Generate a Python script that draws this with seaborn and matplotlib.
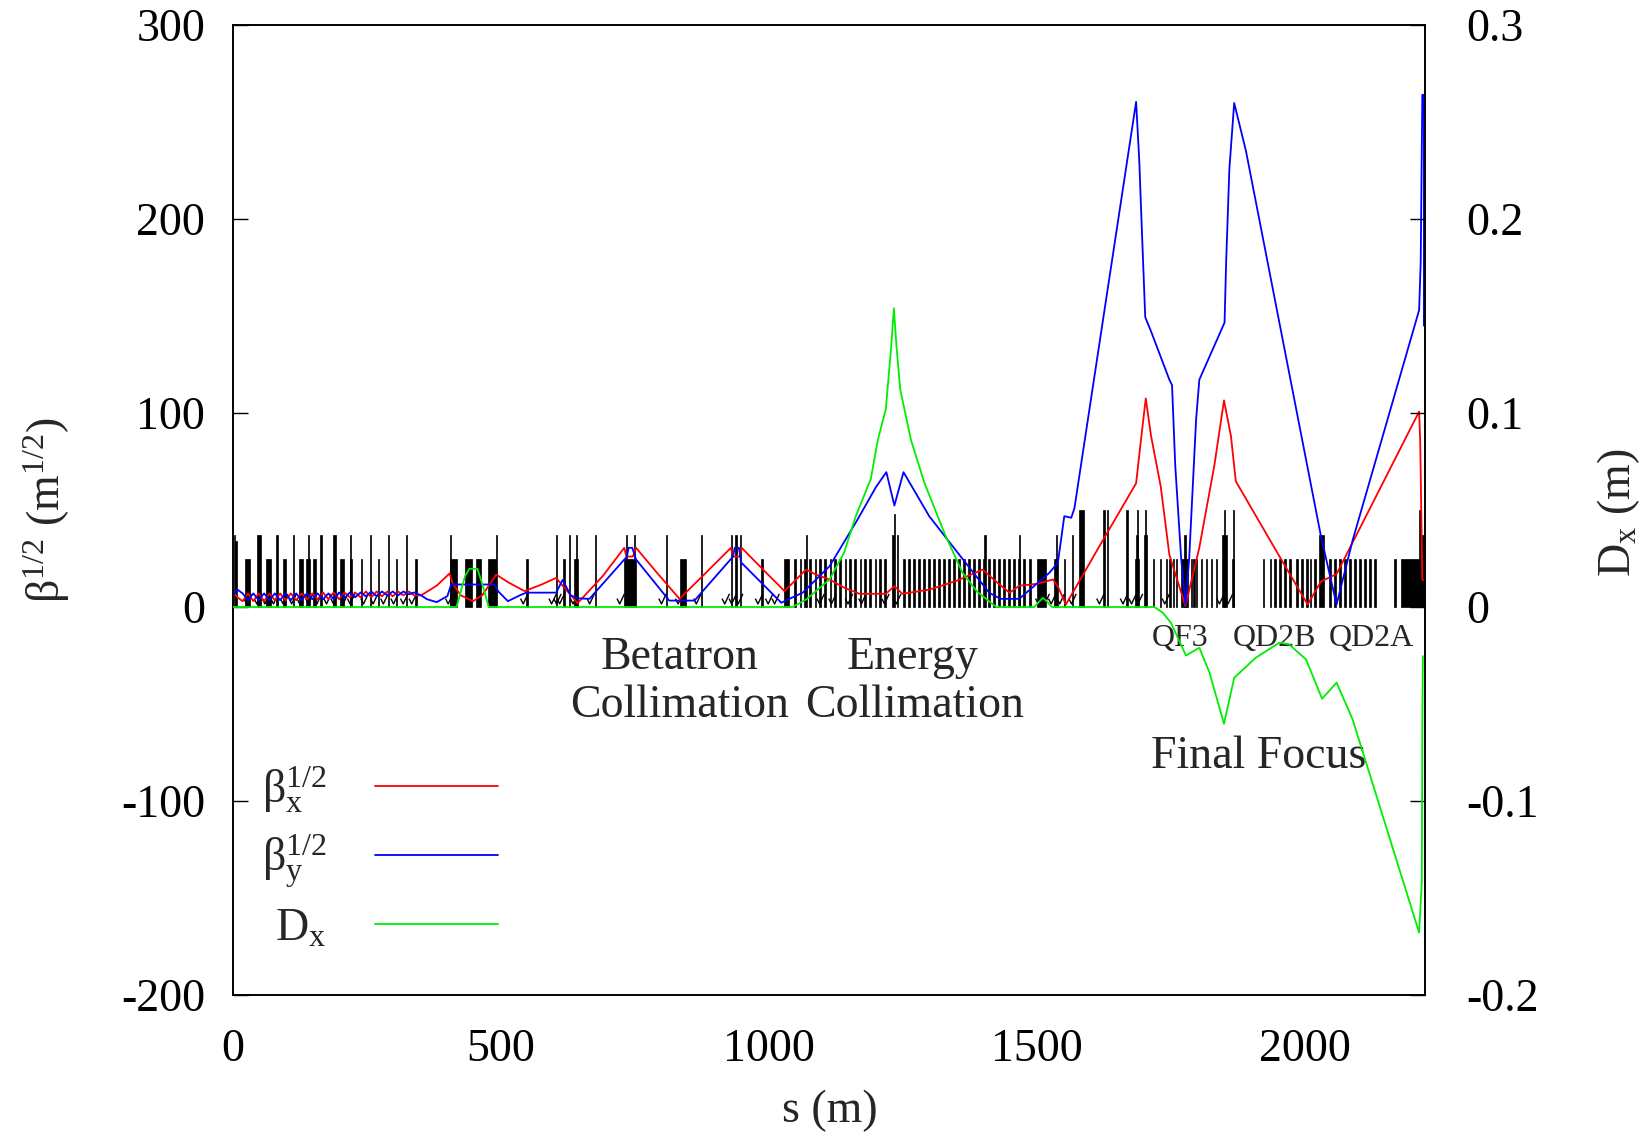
import matplotlib
matplotlib.use("Agg")
import numpy as np
import pandas as pd
import matplotlib.pyplot as plt
import seaborn as sns
from matplotlib.lines import Line2D
from matplotlib.path import Path

# ---------------- data ----------------
# sqrt(beta_x) (red), m^1/2
red_s = [0, 8, 18, 28, 38, 48, 58, 68, 78, 88,
         98, 108, 118, 128, 138, 148, 158, 168, 178, 188,
         198, 208, 218, 228, 238, 248, 258, 268, 278, 288,
         298, 308, 318, 328, 338, 351, 380, 404, 410, 425,
         448, 465, 491, 515, 544, 575, 603, 615, 643, 690,
         730, 734, 746, 752, 790, 833, 880, 929, 933, 945,
         949, 990, 1029, 1050, 1069, 1088, 1113, 1140, 1169, 1218,
         1234, 1249, 1300, 1350, 1399, 1420, 1449, 1467, 1486, 1501,
         1530, 1540, 1554, 1620, 1685, 1694, 1703, 1713, 1731, 1747,
         1777, 1803, 1831, 1849, 1862, 1871, 1940, 2005, 2030, 2059,
         2213, 2215, 2219, 2222]
red_v = [8, 5, 3, 7, 3, 7, 3, 7, 3.5, 7,
         3.5, 7, 3.5, 7, 4, 7, 4, 7.5, 4, 7.5,
         4, 7.5, 5, 7.5, 5, 8, 5, 8, 5.5, 8,
         5.5, 8, 6, 8, 6, 6, 11, 17.3, 12, 6,
         3, 6, 16.7, 12.5, 8.2, 11.5, 15, 11, 2, 16,
         30.5, 26, 26, 30.5, 18, 4.2, 17, 30.5, 26, 26,
         30.5, 19, 8.2, 14, 19.3, 16.7, 14.2, 10, 6.8, 6.8,
         10.7, 6.8, 9, 13.5, 19.3, 14, 7.3, 11, 11.5, 12,
         14.2, 10, 1.3, 33, 63.8, 86, 107.5, 88, 62, 27,
         0.5, 30.7, 73, 106.5, 88, 64.8, 32, 1.3, 13.2, 17,
         100.7, 86, 14, 14]

# sqrt(beta_y) (blue), m^1/2
blue_s = [0, 8, 18, 28, 38, 48, 58, 68, 78, 88,
          98, 108, 118, 128, 138, 148, 158, 168, 178, 188,
          198, 208, 218, 228, 238, 248, 258, 268, 278, 288,
          298, 308, 318, 328, 338, 351, 362, 380, 400, 407,
          488, 495, 513, 535, 547, 603, 615, 630, 643, 665,
          735, 738, 745, 752, 814, 861, 933, 936, 944, 948,
          1023, 1038, 1063, 1113, 1163, 1200, 1219, 1234, 1251, 1299,
          1362, 1411, 1432, 1467, 1523, 1539, 1551, 1564, 1570, 1595,
          1685, 1691, 1694, 1702, 1713, 1747, 1752, 1758, 1769, 1777,
          1784, 1797, 1803, 1850, 1853, 1859, 1868, 1890, 2030, 2059,
          2089, 2213, 2216, 2219, 2222, 2222]
blue_v = [6, 9, 7, 3.5, 7, 3.5, 7, 3.5, 7, 3.5,
          7, 3.5, 7, 3.5, 7, 4, 7, 4, 7, 4,
          7.5, 4.5, 7.5, 5, 7.5, 5.5, 8, 5.5, 8, 6,
          8, 6, 8, 6.5, 7.5, 6, 4, 2.5, 5.6, 11.6,
          11.6, 8, 3, 6, 7.4, 7.4, 14, 6, 4.5, 4.2,
          26, 30.5, 30.5, 24.5, 3.3, 3.3, 26, 30.5, 30.5, 23,
          2.2, 4.2, 7.4, 21, 44, 62, 69.5, 52.3, 69.5, 46.8,
          24.5, 7.3, 4.2, 4.2, 17.6, 22.8, 46.8, 46, 51, 96.6,
          260.4, 229.5, 207, 149.4, 142, 117.2, 114.4, 73, 25.2, 1.3,
          25, 97, 117.2, 146.6, 178, 225.8, 259.8, 235, 36.3, 1.3,
          34.4, 153, 178, 264, 264, 145]

# horizontal dispersion D_x (green), m
green_s = [0, 417, 425, 433, 441, 456, 465, 477, 1044, 1070,
           1113, 1140, 1162, 1190, 1203, 1218, 1228, 1233, 1238, 1245,
           1265, 1290, 1329, 1361, 1388, 1424, 1495, 1505, 1511, 1518,
           1528, 1719, 1735, 1750, 1778, 1803, 1822, 1849, 1868, 1908,
           1952, 1970, 2002, 2032, 2059, 2089, 2213, 2218, 2219, 2220]
green_v = [0, 0, 0.008, 0.016, 0.0197, 0.0197, 0.012, 0, 0, 0.004,
           0.0142, 0.028, 0.0468, 0.066, 0.086, 0.102, 0.134, 0.154, 0.134, 0.112,
           0.086, 0.064, 0.037, 0.0177, 0.008, 0, 0, 0.003, 0.0047, 0.003,
           0, 0, -0.003, -0.0081, -0.025, -0.021, -0.0339, -0.0602, -0.0365, -0.0262,
           -0.0184, -0.0192, -0.027, -0.0473, -0.039, -0.058, -0.1678, -0.142, -0.063, -0.0253]

# magnet lattice: left edge (m), length (m), drawn height
comb_a = [1047, 1057, 1066, 1075, 1085, 1094, 1103, 1113, 1122, 1131,
          1141, 1150, 1159, 1169, 1178, 1187, 1197, 1206, 1215,
          1250, 1259, 1269, 1278, 1287, 1297, 1306, 1315, 1325, 1334,
          1343, 1353, 1362, 1371, 1381, 1390, 1399, 1409, 1418, 1427,
          1437, 1446, 1455, 1465, 1474]
comb_b = [1921, 1934, 1943, 1952, 1961, 1971, 1983, 1993, 2002, 2009,
          2017, 2045, 2055, 2064, 2073, 2083, 2092, 2101, 2111, 2120, 2129]
mag_s = [2, 4, 22, 44, 62, 81, 93, 112, 124, 137,
         140, 149, 163, 186, 199, 218, 219, 239, 255, 270,
         289, 304, 323, 339, 404, 405, 432, 454, 476, 490,
         547, 603, 615, 626, 637, 640, 675, 730, 733, 748,
         807, 834, 873, 929, 937, 946, 985, 1028,
         1069, 1230, 1233, 1238, 1402, 1467,
         1486, 1501, 1532, 1536, 1551, 1565, 1578, 1624, 1630, 1667,
         1683, 1684, 1686, 1700, 1702, 1717, 1729, 1741, 1747, 1753,
         1759, 1769, 1775, 1787, 1792, 1797, 1806, 1815, 1825, 1834,
         1846, 1849, 1864, 1865, 2027, 2167, 2179, 2213, 2216] + comb_a + comb_b
mag_w = [2.2, 4, 9, 8, 8, 2.2, 6, 2.2, 6, 6,
         2.2, 6, 2.2, 6, 8, 2.2, 3, 2.2, 2.2, 3,
         2.2, 2.2, 2.2, 5, 13, 2.2, 13, 9, 15, 2.2,
         4, 2.2, 5, 2.2, 6, 2.2, 2.2, 22, 2.2, 2.2,
         2.2, 11, 2.2, 2.5, 2.5, 2.5, 4, 10,
         2.2, 3, 2.2, 2.5, 2.2, 2.2,
         2.2, 16, 7, 2.2, 2.2, 2.2, 10, 2.2, 2.2, 2.2,
         7, 4, 2.2, 5, 2.2, 2.2, 2.2, 2.2, 2.2, 2.2,
         2.2, 12, 2.2, 2.2, 2.2, 2.2, 2.2, 2.2, 2.2, 2.2,
         8, 2.2, 3, 2.2, 9, 2.2, 37, 3, 6] + [3.2] * (len(comb_a) + len(comb_b))
mag_h = [37, 34, 25, 37, 25, 37, 25, 37, 25, 25,
         37, 25, 37, 37, 25, 37, 25, 25, 37, 25,
         37, 25, 37, 25, 25, 37, 25, 25, 25, 37,
         25, 37, 25, 37, 25, 37, 37, 25, 37, 37,
         37, 25, 37, 37, 37, 37, 25, 25,
         37, 37, 48, 37, 37, 37,
         25, 25, 25, 37, 25, 37, 50, 50, 50, 50,
         25, 37, 50, 37, 50, 25, 25, 25, 25, 25,
         25, 25, 37, 25, 25, 25, 25, 25, 25, 25,
         37, 50, 25, 50, 37, 25, 25, 50, 37] + [25] * (len(comb_a) + len(comb_b))

# small correctors / sextupoles drawn as tiny check marks near the axis
corr_s = [28, 47, 62, 78, 96, 112, 127, 143, 159, 177,
          190, 208, 221, 246, 264, 283, 302, 320, 336, 404,
          544, 597, 606, 612, 637, 668, 724, 802, 833, 867,
          920, 933, 945, 982, 1001, 1013, 1097, 1119, 1150, 1175,
          1218, 1240, 1505, 1517, 1529, 1545, 1567, 1619, 1663, 1679,
          1691, 1741, 1843, 1859]
corr_v = [4] * len(corr_s)

x_ticks = [0, 500, 1000, 1500, 2000]
y_ticks = [-200, -100, 0, 100, 200, 300]
y_ticklabels = ["-200", "-100", "0", "100", "200", "300"]
y2_ticks = [-0.2, -0.1, 0, 0.1, 0.2, 0.3]
y2_ticklabels = ["-0.2", "-0.1", "0", "0.1", "0.2", "0.3"]

labels = ["β$_\\mathrm{x}^{1/2}$", "β$_\\mathrm{y}^{1/2}$", "D$_\\mathrm{x}$"]

# ---------------- style ----------------
sns.set_theme(style="white")
plt.rcParams["font.family"] = ["Liberation Serif", "DejaVu Serif"]
plt.rcParams["mathtext.fontset"] = "custom"
plt.rcParams["mathtext.rm"] = "Liberation Serif"
plt.rcParams["mathtext.it"] = "Liberation Serif:italic"
plt.rcParams["mathtext.bf"] = "Liberation Serif:bold"
plt.rcParams["axes.unicode_minus"] = False

FS = 33
RED, BLUE, GREEN = "#ff0000", "#0000ff", "#00ee00"
CHECK = Path([(-0.6, 0.1), (-0.2, -0.7), (0.5, 0.8)],
             [Path.MOVETO, Path.LINETO, Path.LINETO])

fig = plt.figure(figsize=(16.48, 11.34), dpi=100)
ax = fig.add_axes([233 / 1648, 1 - 995 / 1134, 1192 / 1648, 970 / 1134])
ax2 = ax.twinx()

# lattice
ax.bar(mag_s, mag_h, width=mag_w, align="edge", color="black",
       edgecolor="black", linewidth=0.5, zorder=1)
ax.scatter(corr_s, corr_v, marker=CHECK, s=60, facecolors="none",
           edgecolors="black", linewidths=1.0, zorder=2)

df_r = pd.DataFrame({"s": red_s, "v": red_v})
df_b = pd.DataFrame({"s": blue_s, "v": blue_v})
df_g = pd.DataFrame({"s": green_s, "v": green_v})
sns.lineplot(data=df_r, x="s", y="v", estimator=None, sort=False, color=RED,
             linewidth=1.3, ax=ax, zorder=3)
sns.lineplot(data=df_b, x="s", y="v", estimator=None, sort=False, color=BLUE,
             linewidth=1.3, ax=ax, zorder=3)
sns.lineplot(data=df_g, x="s", y="v", estimator=None, sort=False, color=GREEN,
             linewidth=1.3, ax=ax2, zorder=3)

ax.set_xlim(0, 2224)
ax.set_ylim(-200, 300)
ax2.set_ylim(-0.2, 0.3)

ax.set_xticks(x_ticks)
ax.set_xticklabels([str(t) for t in x_ticks])
ax.set_yticks(y_ticks)
ax.set_yticklabels(y_ticklabels)
ax2.set_yticks(y2_ticks)
ax2.set_yticklabels(y2_ticklabels)

ax.tick_params(axis="x", direction="in", length=11, width=1, top=False,
               labelsize=FS, pad=24, colors="black")
ax.tick_params(axis="y", direction="in", length=11, width=1, right=False,
               labelsize=FS, pad=20, colors="black")
ax2.tick_params(axis="y", direction="in", length=11, width=1,
                labelsize=FS, pad=30, colors="black")
for a in (ax, ax2):
    for sp in a.spines.values():
        sp.set_color("black")
        sp.set_linewidth(1.2)

ax.set_xlabel("s (m)", fontsize=FS)
ax.set_ylabel("β$^{1/2}$ (m$^{1/2}$)", fontsize=FS)
ax2.set_ylabel("D$_\\mathrm{x}$ (m)", fontsize=FS)
ax.xaxis.set_label_coords(0.501, -0.097)
ax.yaxis.set_label_coords(-0.135, 0.5)
ax2.yaxis.set_label_coords(1.1426, 0.497)

# annotations
ax.text(833, -26, "Betatron", fontsize=FS, ha="center", va="center")
ax.text(833, -51, "Collimation", fontsize=FS, ha="center", va="center")
ax.text(1268, -26, "Energy", fontsize=FS, ha="center", va="center")
ax.text(1272, -51, "Collimation", fontsize=FS, ha="center", va="center")
ax.text(1767, -16, "QF3", fontsize=23, ha="center", va="center")
ax.text(1943, -16, "QD2B", fontsize=23, ha="center", va="center")
ax.text(2124, -16, "QD2A", fontsize=23, ha="center", va="center")
ax.text(1914, -77, "Final Focus", fontsize=FS, ha="center", va="center")

handles = [Line2D([], [], color=RED, lw=1.3),
           Line2D([], [], color=BLUE, lw=1.3),
           Line2D([], [], color=GREEN, lw=1.3)]
leg = ax2.legend(handles, labels, loc="upper left",
                 bbox_to_anchor=(0.024, 0.238), bbox_transform=ax.transAxes,
                 markerfirst=False, frameon=False, fontsize=FS,
                 handlelength=2.7, handletextpad=1.05, labelspacing=0.38,
                 borderpad=0, borderaxespad=0)

fig.savefig("out.png", dpi=100)
